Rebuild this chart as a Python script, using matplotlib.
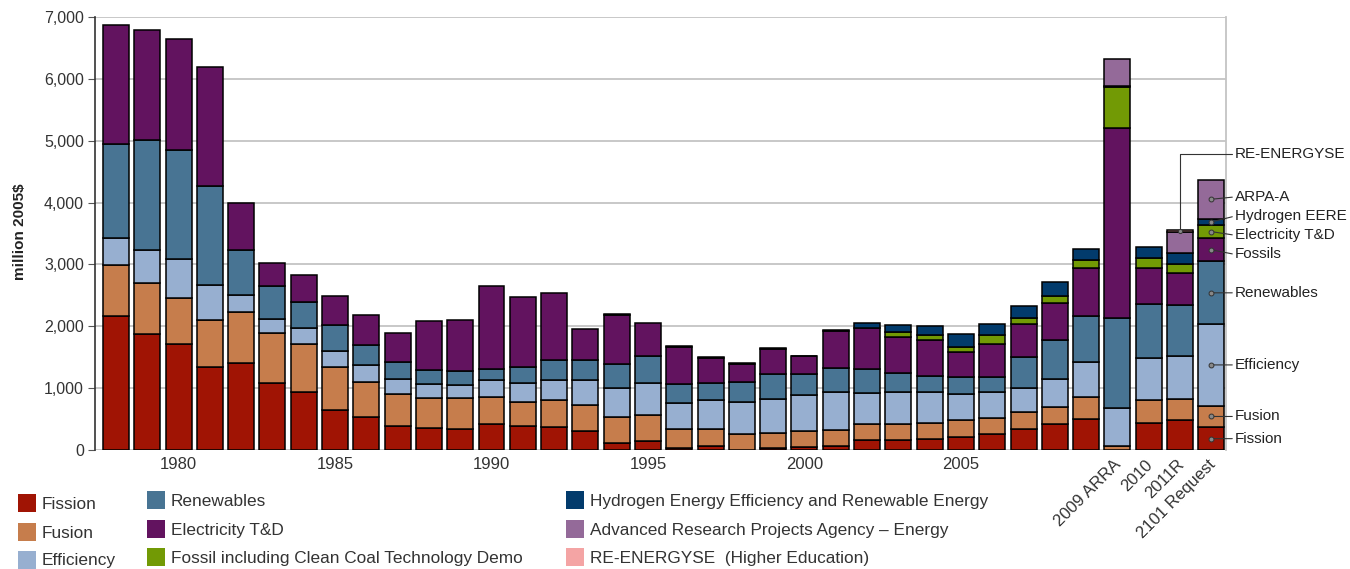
import numpy as np
import matplotlib.pyplot as plt
from matplotlib.patches import Rectangle
from matplotlib.ticker import FuncFormatter
import matplotlib.transforms as mtransforms

plt.rcParams['font.family'] = ['Liberation Sans', 'DejaVu Sans']

# categories: 1978..2009 then the budget columns
categories = [str(y) for y in range(1978, 2010)] + ['2009 ARRA', '2010', '2011R', '2101 Request']

# million 2005$
fission = [2168, 1877, 1715, 1338, 1413, 1084, 933, 642, 539, 388, 356, 340, 415, 383, 367, 307,
           119, 146, 38, 59, 5, 32, 49, 59, 156, 167, 178, 210, 259, 334, 421, 502,
           0, 442, 485, 367]
fusion = [820, 820, 750, 766, 815, 804, 782, 696, 567, 524, 491, 496, 448, 388, 442, 427,
          420, 420, 296, 281, 259, 238, 264, 265, 265, 254, 254, 275, 264, 286, 275, 361,
          70, 367, 335, 350]
efficiency = [442, 539, 626, 561, 275, 232, 254, 264, 264, 237, 226, 221, 264, 308, 329, 393,
              470, 513, 432, 464, 507, 555, 577, 615, 507, 512, 501, 416, 410, 378, 453, 561,
              615, 685, 701, 1317]
renewables = [1516, 1780, 1763, 1601, 733, 528, 426, 421, 324, 270, 222, 221, 184, 270, 324, 324,
              383, 448, 302, 275, 335, 410, 334, 388, 383, 313, 270, 280, 248, 512, 631, 744,
              1446, 863, 820, 1014]
elec_td = [1926, 1769, 1791, 1931, 761, 378, 437, 469, 496, 469, 792, 826, 1343, 1121, 1084, 512,
           790, 533, 600, 410, 285, 400, 290, 595, 658, 583, 572, 399, 540, 534, 604, 777,
           3074, 583, 518, 377]
fossil = [0, 0, 0, 0, 0, 0, 0, 0, 0, 0, 0, 0, 0, 0, 0, 0,
          0, 0, 0, 0, 0, 0, 0, 0, 0, 86, 86, 92, 145, 97, 103, 119,
          658, 162, 156, 211]
hydrogen = [0, 0, 0, 0, 0, 0, 0, 0, 0, 0, 0, 0, 0, 0, 0, 0,
            12, 0, 12, 12, 12, 12, 12, 12, 91, 102, 146, 200, 178, 195, 226, 178,
            20, 183, 162, 102]
arpa_e = [0] * 32 + [437, 0, 340, 631]
re_energyse = [0] * 32 + [0, 0, 38, 0]

series = [fission, fusion, efficiency, renewables, elec_td, fossil, hydrogen, arpa_e, re_energyse]
colors = ['#a01404', '#c67d4c', '#97afd0', '#487493', '#62135f', '#729a05', '#023b6c', '#946a99', '#f4a4a4']
legend_names = ['Fission', 'Fusion', 'Efficiency',
                'Renewables', 'Electricity T&D', 'Fossil including Clean Coal Technology Demo',
                'Hydrogen Energy Efficiency and Renewable Energy',
                'Advanced Research Projects Agency \u2013 Energy', 'RE-ENERGYSE  (Higher Education)']
side_names = ['Fission', 'Fusion', 'Efficiency', 'Renewables', 'Fossils',
              'Electricity T&D', 'Hydrogen EERE', 'ARPA-A']

W, H = 1350, 569
fig = plt.figure(figsize=(W / 100, H / 100), dpi=100)
ax = fig.add_axes([95 / W, 1 - 450 / H, (1226 - 95) / W, (450 - 17) / H])

x = np.arange(len(categories))
bottom = np.zeros(len(categories))
bottoms = []
for vals, col in zip(series, colors):
    v = np.array(vals, dtype=float)
    m = v > 0
    ax.bar(x[m], v[m], width=0.83, bottom=bottom[m], color=col,
           edgecolor='black', linewidth=1.1, zorder=3)
    bottoms.append(bottom.copy())
    bottom += v

ax.set_xlim(-0.67, 35.47)
ax.set_ylim(0, 7000)
ax.set_yticks(np.arange(0, 7001, 1000))
ax.yaxis.set_major_formatter(FuncFormatter(lambda v, p: '{:,.0f}'.format(v)))
ax.yaxis.grid(True, color='#c4c4c4', linewidth=1.3, zorder=0)
ax.set_axisbelow(True)
for s in ['top', 'bottom']:
    ax.spines[s].set_visible(False)
ax.spines['left'].set_color('#333333')
ax.spines['left'].set_linewidth(1.2)
ax.spines['right'].set_color('#c4c4c4')
ax.spines['right'].set_linewidth(1.3)
ax.tick_params(axis='y', length=5, color='#555555', labelsize=11.5, labelcolor='#333333', pad=3)

year_ticks = [2, 7, 12, 17, 22, 27]
ax.set_xticks(year_ticks)
ax.set_xticklabels([categories[i] for i in year_ticks])
ax.tick_params(axis='x', length=0, labelsize=12, labelcolor='#333333', pad=5)

trans = mtransforms.blended_transform_factory(ax.transData, ax.transAxes)
for i in range(32, 36):
    ax.text(i + 0.05, -0.028, categories[i], transform=trans, rotation=45,
            rotation_mode='anchor', ha='right', va='center', fontsize=12, color='#333333')

fig.text(20 / W, 1 - 232 / H, 'million 2005$', rotation=90, ha='center', va='center',
         fontsize=11, fontweight='bold', color='#222222')

# side labels for the last column, overlapping ones spread around their mean
req = 35
gap = 310
mids = [bottoms[k][req] + series[k][req] / 2 for k in range(8)]
groups = [[k] for k in range(8)]
def place(g):
    c = np.mean([mids[k] for k in g])
    return [c + (j - (len(g) - 1) / 2) * gap for j in range(len(g))]
changed = True
while changed:
    changed = False
    for gi in range(len(groups) - 1):
        a, b = place(groups[gi]), place(groups[gi + 1])
        if b[0] - a[-1] < gap:
            groups[gi] = groups[gi] + groups[gi + 1]
            del groups[gi + 1]
            changed = True
            break
label_y = {}
for g in groups:
    for k, y in zip(g, place(g)):
        label_y[k] = y

for k in range(8):
    ax.plot(req, mids[k], 'o', ms=3.5, mfc='#888888', mec='#333333', mew=0.7, clip_on=False, zorder=6)
    ax.annotate(side_names[k], xy=(req, mids[k]), xycoords='data',
                xytext=(1.008, label_y[k]), textcoords=('axes fraction', 'data'),
                ha='left', va='center', fontsize=11, color='#222222', annotation_clip=False,
                arrowprops=dict(arrowstyle='-', color='#333333', lw=0.8,
                                relpos=(0, 0.5), shrinkA=0, shrinkB=0))

r_idx = 34
r_mid = bottoms[8][r_idx] + re_energyse[r_idx] / 2
ax.plot(r_idx, r_mid, 'o', ms=3, mfc='#888888', mec='#333333', mew=0.7, clip_on=False, zorder=6)
ax.annotate('RE-ENERGYSE', xy=(r_idx, r_mid), xycoords='data',
            xytext=(1.008, 4790), textcoords=('axes fraction', 'data'),
            ha='left', va='center', fontsize=11, color='#222222', annotation_clip=False,
            arrowprops=dict(arrowstyle='-', color='#333333', lw=0.8, relpos=(0, 0.5),
                            shrinkA=0, shrinkB=0,
                            connectionstyle='angle,angleA=0,angleB=90,rad=0'))

# legend drawn in pixel space
lax = fig.add_axes([0, 0, 1, 1])
lax.set_xlim(0, W)
lax.set_ylim(H, 0)
lax.axis('off')
col_x = [18, 147, 566]
row_y = [[494, 523, 551], [491, 520, 548], [491, 520, 548]]
for c in range(3):
    for r in range(3):
        k = c * 3 + r
        lax.add_patch(Rectangle((col_x[c], row_y[c][r]), 18, 18, color=colors[k], lw=0))
        lax.text(col_x[c] + 24, row_y[c][r] + 10, legend_names[k], ha='left', va='center',
                 fontsize=12.4, color='#333333')

fig.savefig('out.png', dpi=100)
